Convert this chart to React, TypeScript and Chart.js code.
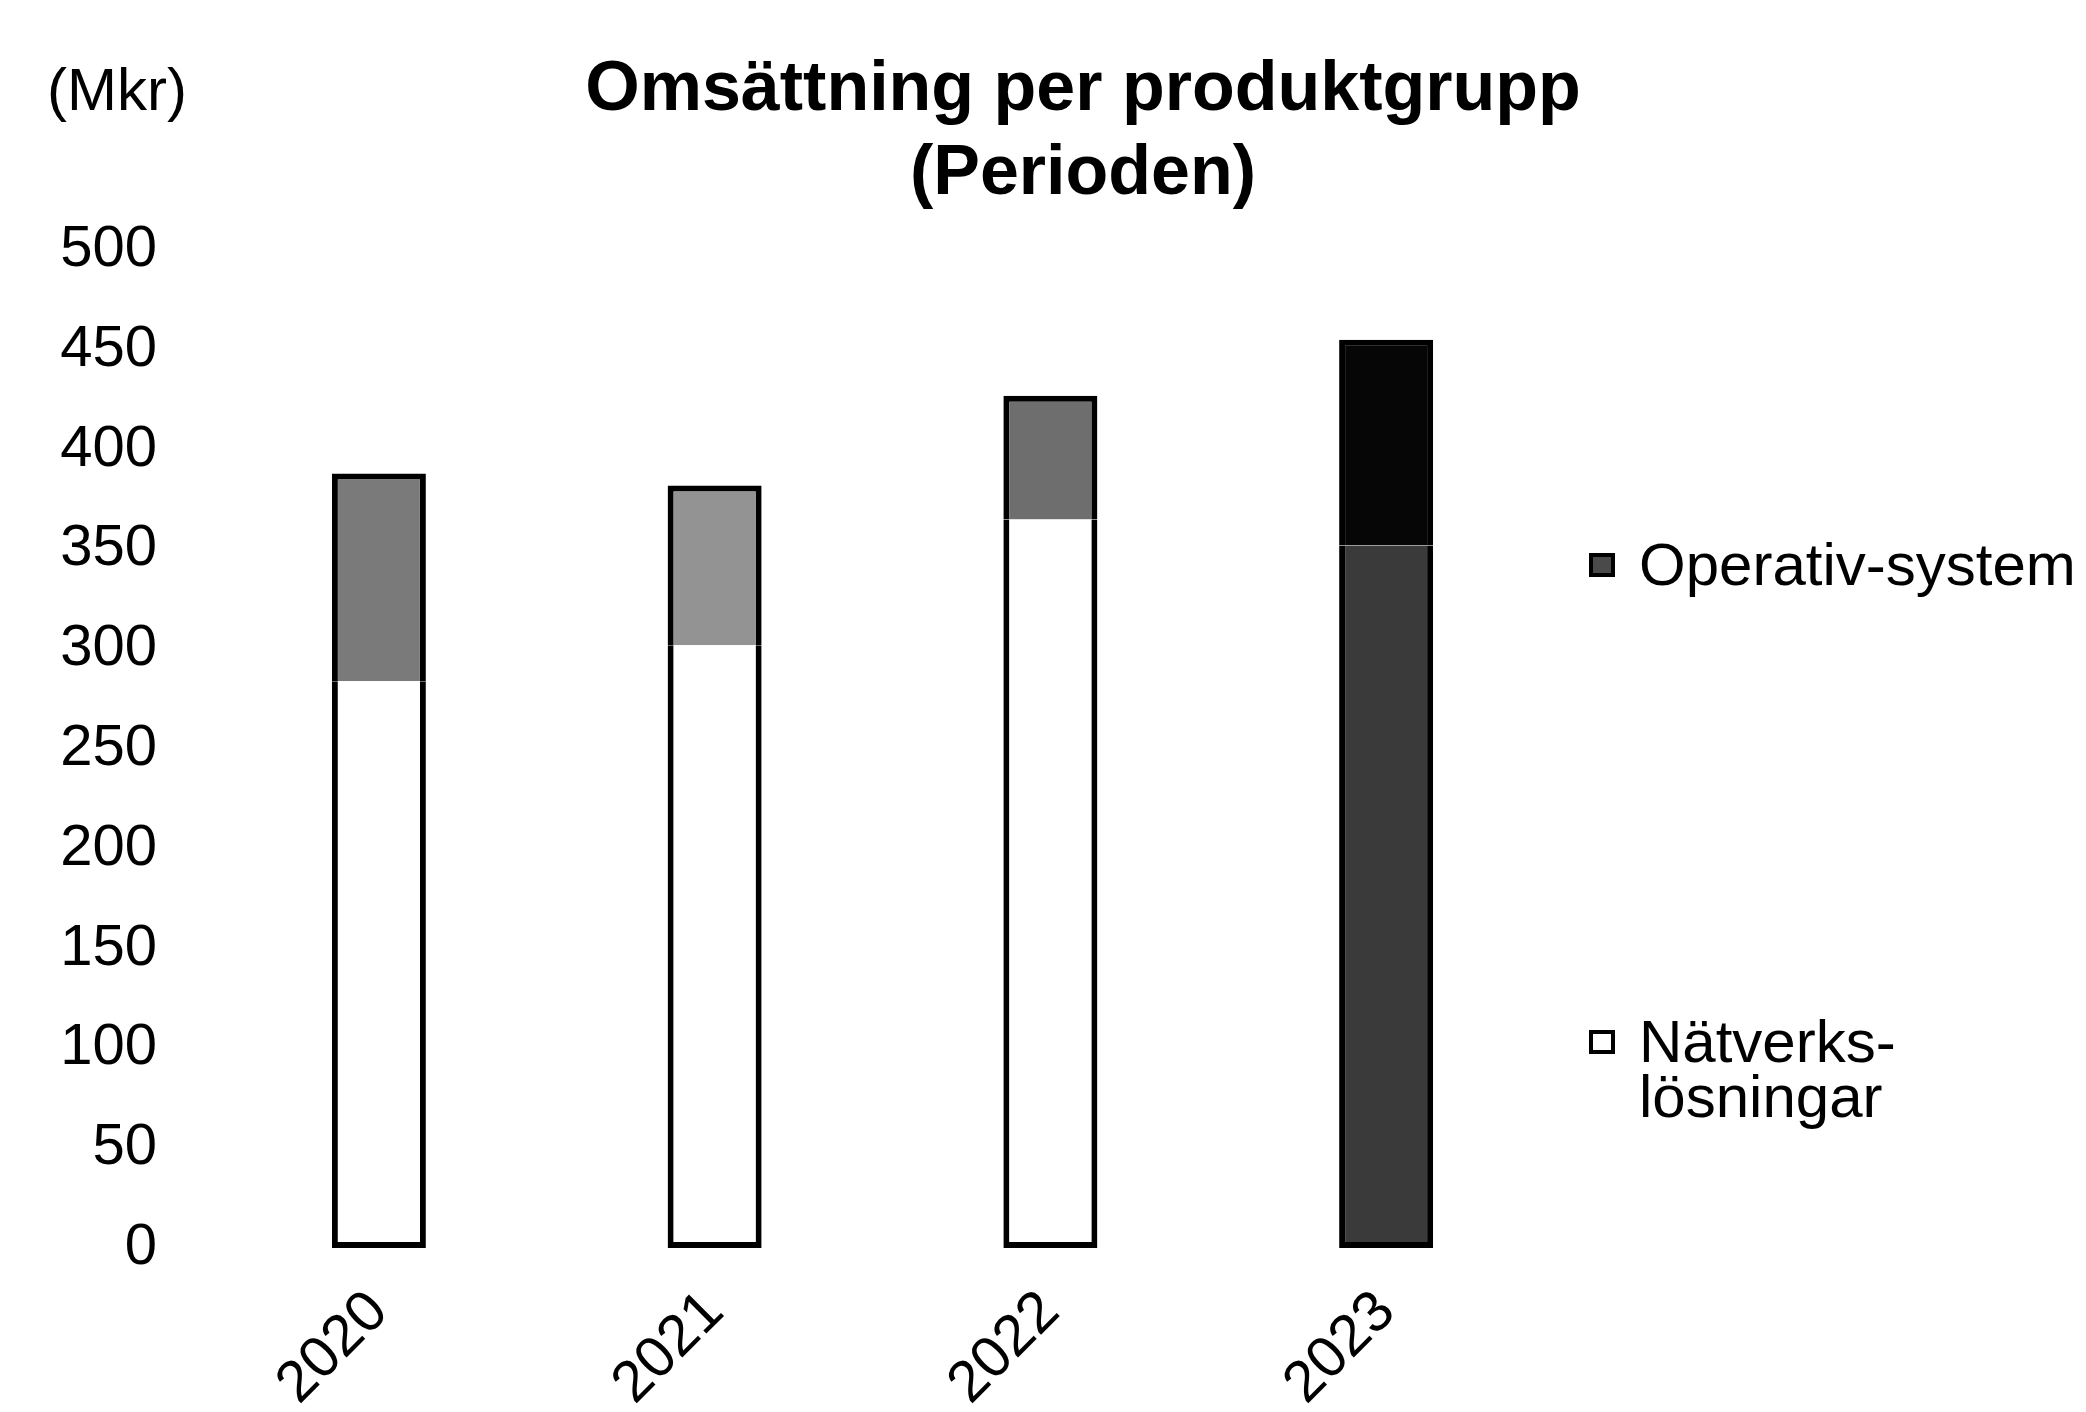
import React, { useEffect, useRef } from "react";
import { Chart, registerables } from "chart.js";

Chart.register(...registerables);

// ---- data ----
const years = ["2020", "2021", "2022", "2023"];
const natverks = [284, 302, 365, 352];
const operativ = [104, 80, 62, 103];
const yMin = 0;
const yMax = 500;
const yStep = 50;
const titleLines = ["Omsättning per produktgrupp", "(Perioden)"];
const unitLabel = "(Mkr)";
const legendOperativ = "Operativ-system";
const legendNatverks = ["Nätverks-", "lösningar"];

// ---- styles ----
const FONT = '"Liberation Sans", Arial, Helvetica, sans-serif';
const natverksColors = ["#ffffff", "#ffffff", "#ffffff", "#3a3a3a"];
const operativColors = ["#7a7a7a", "#939393", "#6e6e6e", "#060606"];

export default function App() {
  const canvasRef = useRef<HTMLCanvasElement | null>(null);

  useEffect(() => {
    const canvas = canvasRef.current;
    if (!canvas) return;
    const chart = new Chart(canvas, {
      type: "bar",
      data: {
        labels: years,
        datasets: [
          {
            label: "Nätverkslösningar",
            data: natverks,
            backgroundColor: natverksColors,
            borderColor: "#000000",
            borderWidth: 6,
            borderSkipped: "top",
            barPercentage: 0.28,
            categoryPercentage: 1,
          },
          {
            label: "Operativ-system",
            data: operativ,
            backgroundColor: operativColors,
            borderColor: "#000000",
            borderWidth: 6,
            borderSkipped: "bottom",
            barPercentage: 0.28,
            categoryPercentage: 1,
          },
        ],
      },
      options: {
        responsive: false,
        animation: false,
        devicePixelRatio: 1,
        layout: { padding: { top: 250, right: 532, bottom: 0, left: 0 } },
        plugins: {
          legend: { display: false },
          title: { display: false },
          tooltip: { enabled: false },
        },
        scales: {
          x: {
            stacked: true,
            grid: { display: false, drawTicks: false },
            border: { display: false },
            ticks: {
              minRotation: 45,
              maxRotation: 45,
              padding: 30,
              color: "#000000",
              font: { family: FONT, size: 58 },
            },
            afterFit: (scale: any) => {
              scale.height = 164;
            },
          },
          y: {
            stacked: true,
            min: yMin,
            max: yMax,
            grid: { display: false, drawTicks: false },
            border: { display: false },
            ticks: {
              stepSize: yStep,
              padding: 54,
              color: "#000000",
              font: { family: FONT, size: 58 },
            },
            afterFit: (scale: any) => {
              scale.width = 211;
            },
          },
        },
      },
    });
    return () => chart.destroy();
  }, []);

  const box = (fill: string) => ({
    position: "absolute" as const,
    width: 26,
    height: 24,
    boxSizing: "border-box" as const,
    border: "4px solid #000",
    background: fill,
  });

  return (
    <div
      style={{
        position: "fixed",
        left: 0,
        top: 0,
        width: 2086,
        height: 1412,
        background: "#ffffff",
        overflow: "hidden",
        fontFamily: FONT,
        color: "#000",
      }}
    >
      <canvas
        ref={canvasRef}
        width={2086}
        height={1412}
        style={{ position: "absolute", left: 0, top: 0 }}
      />
      <div
        style={{
          position: "absolute",
          left: 83,
          width: 2000,
          top: 44,
          textAlign: "center",
          fontWeight: "bold",
          fontSize: 70,
          lineHeight: "84px",
          whiteSpace: "nowrap",
        }}
      >
        {titleLines.map((t) => (
          <div key={t}>{t}</div>
        ))}
      </div>
      <div
        style={{
          position: "absolute",
          left: 47,
          top: 54,
          fontSize: 60,
          lineHeight: "72px",
          whiteSpace: "nowrap",
        }}
      >
        {unitLabel}
      </div>
      <div style={{ ...box("#4a4a4a"), left: 1589, top: 553 }} />
      <div
        style={{
          position: "absolute",
          left: 1639,
          top: 529,
          fontSize: 60,
          lineHeight: "72px",
          whiteSpace: "nowrap",
        }}
      >
        {legendOperativ}
      </div>
      <div style={{ ...box("#ffffff"), left: 1589, top: 1030 }} />
      <div
        style={{
          position: "absolute",
          left: 1639,
          top: 1014,
          fontSize: 60,
          lineHeight: "55px",
          whiteSpace: "nowrap",
        }}
      >
        {legendNatverks.map((t) => (
          <div key={t}>{t}</div>
        ))}
      </div>
    </div>
  );
}
